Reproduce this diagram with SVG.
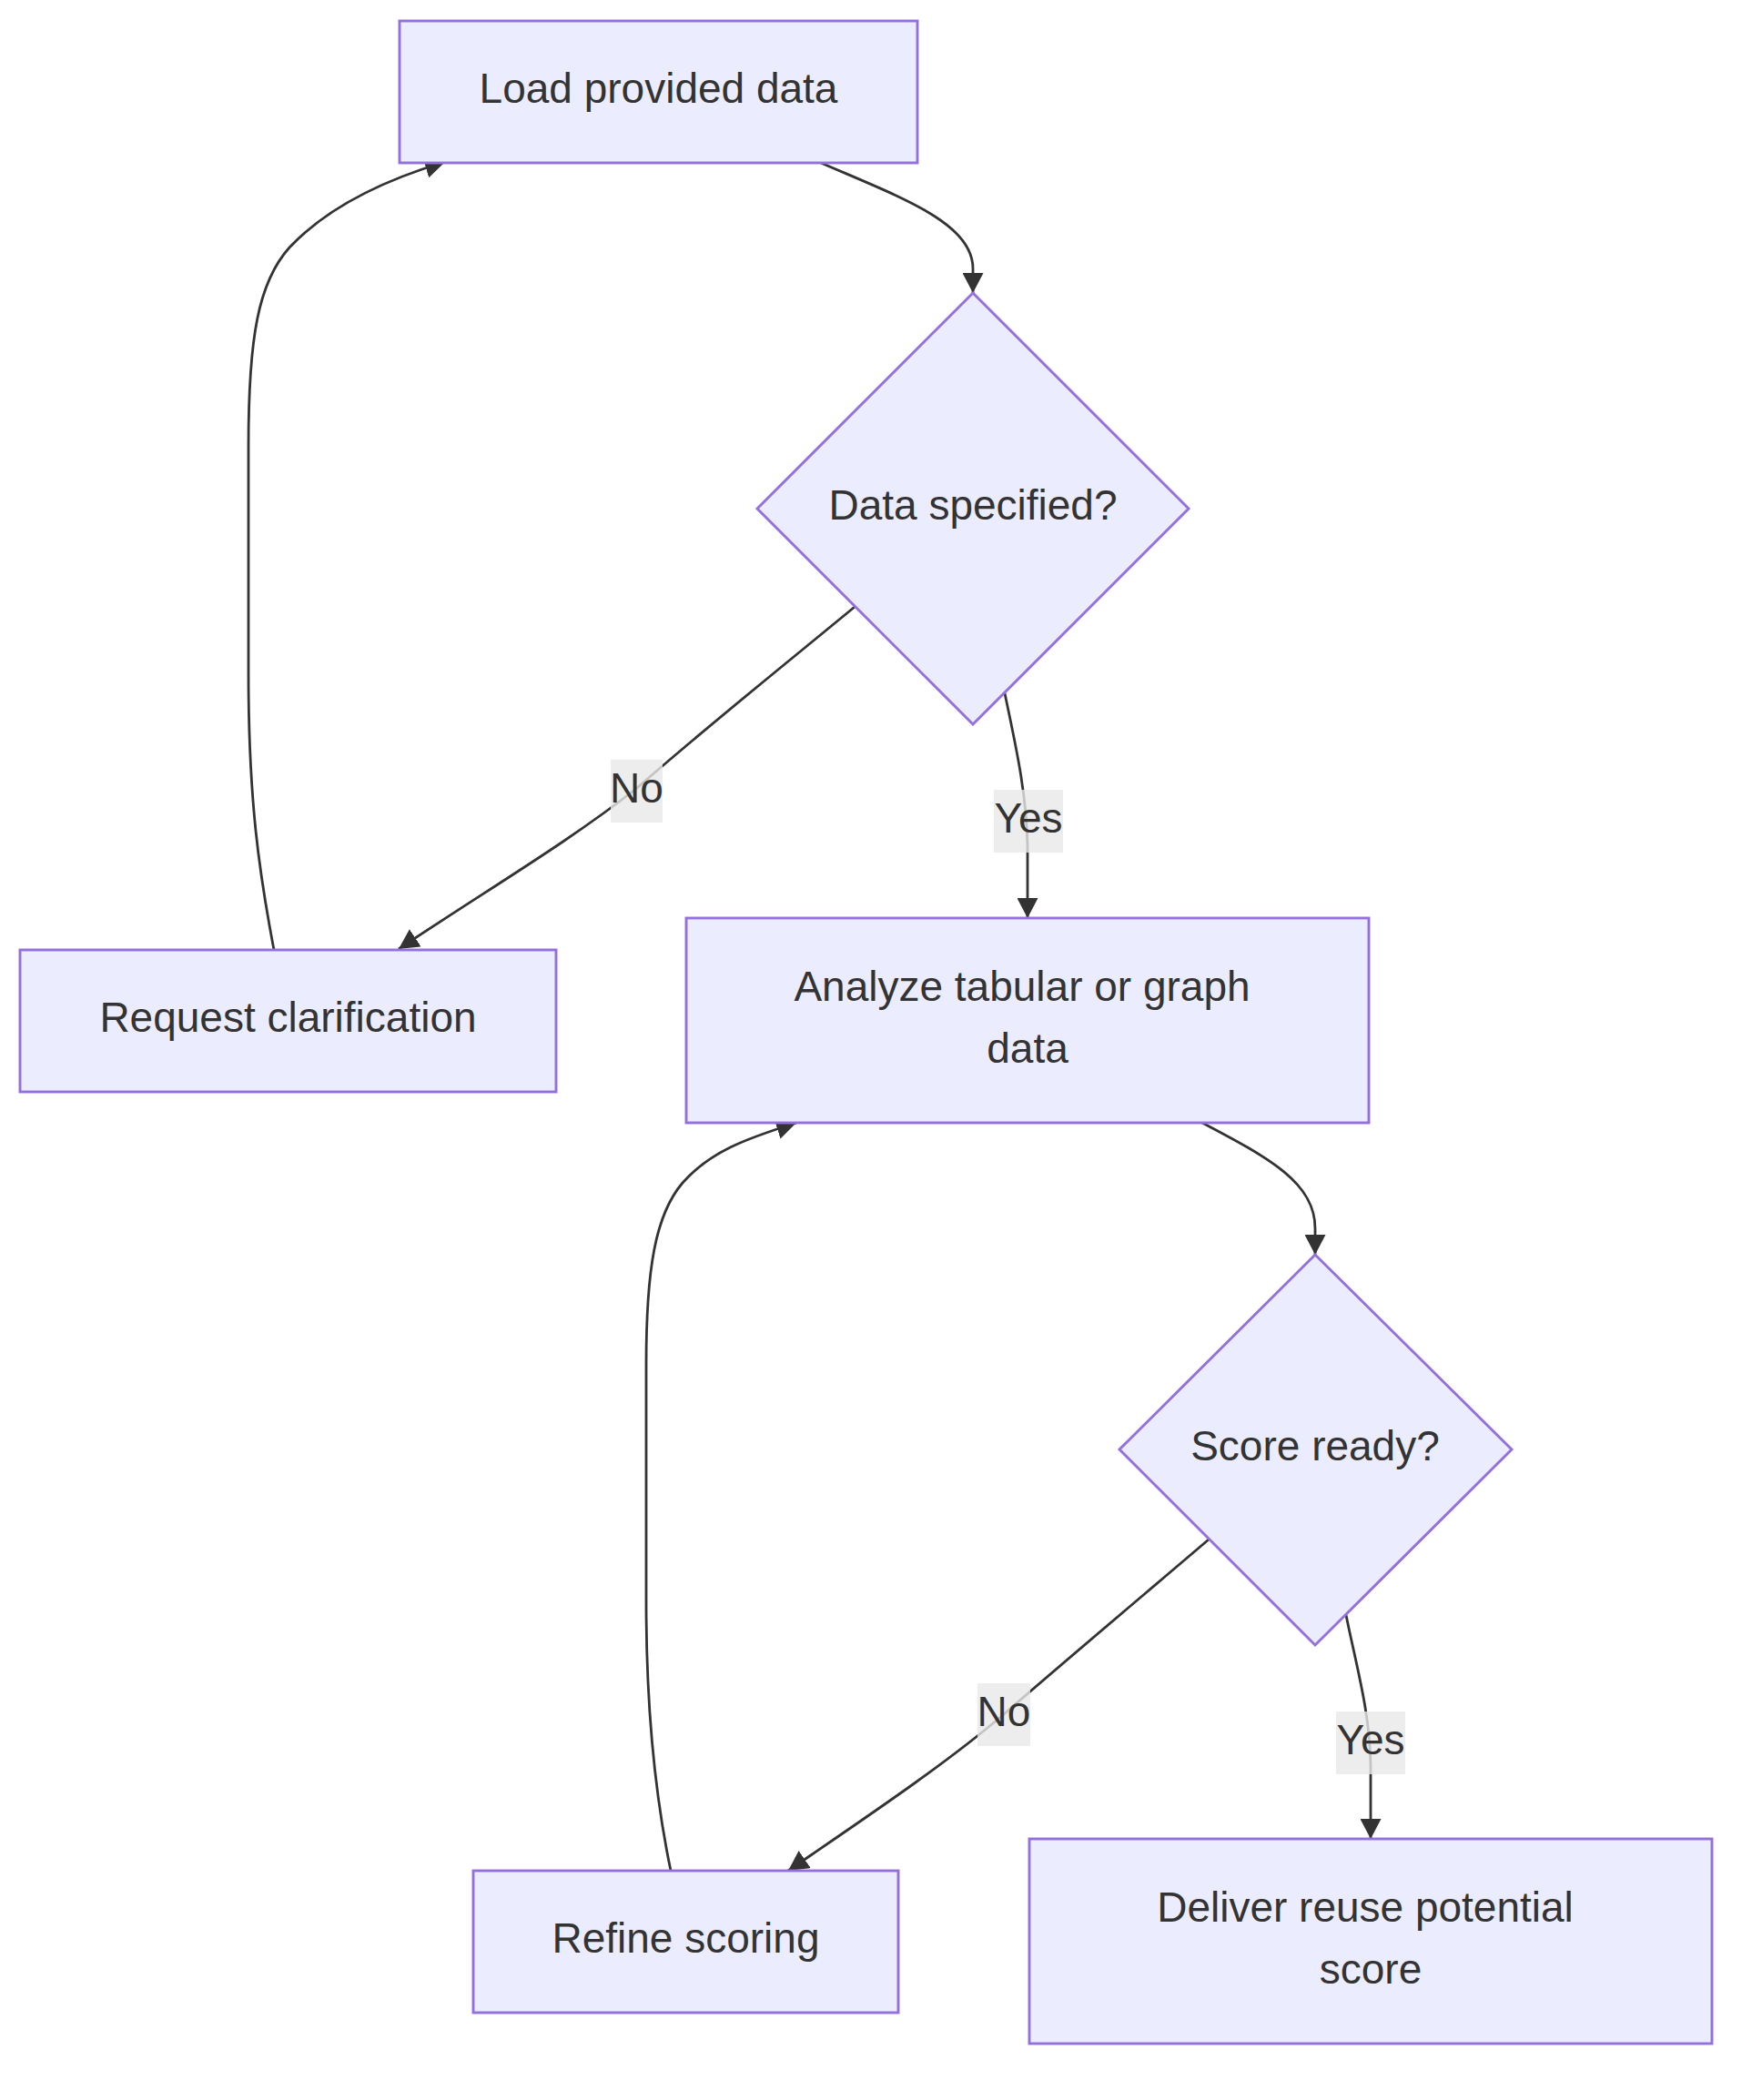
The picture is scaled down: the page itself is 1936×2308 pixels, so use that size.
<svg xmlns="http://www.w3.org/2000/svg" width="1936" height="2308" viewBox="0 0 1936 2308">
<style>
.node rect,.node polygon{fill:#ECECFF;stroke:#9370DB;stroke-width:2.9}
.node text,.label text{font-family:"Liberation Sans",Arial,sans-serif;font-size:46px;fill:#333333;text-anchor:middle}
.edge{fill:none;stroke:#333333;stroke-width:2.8;marker-end:url(#arrow)}
.label rect{fill:#e8e8e8;fill-opacity:0.8}
</style>
<defs>
<marker id="arrow" viewBox="0 0 10 10" refX="10" refY="5" markerUnits="userSpaceOnUse" markerWidth="22" markerHeight="23" preserveAspectRatio="none" orient="auto">
<path d="M0,0 L10,5 L0,10 z" fill="#333333"/>
</marker>
</defs>
<rect x="0" y="0" width="1936" height="2308" fill="#ffffff"/>
<g id="connectors">
<path class="edge" d="M 902 179 C 990 217 1069 245 1069 295 L 1069 322"/>
<path class="edge" d="M 939 667 C 870 724 775 800 700 866 C 625 925 540 975 438 1043"/>
<path class="edge" d="M 1104 762 C 1115 815 1128 870 1129 930 L 1129 1009"/>
<path class="edge" d="M 301 1044 C 285 960 273 880 273 740 L 273 490 C 273 370 284 310 318 272 C 352 236 405 203 489 178"/>
<path class="edge" d="M 1321 1234 C 1395 1273 1445 1300 1445 1350 L 1445 1379"/>
<path class="edge" d="M 1328 1692 C 1260 1750 1165 1830 1103 1884 C 1040 1938 955 1995 866 2056"/>
<path class="edge" d="M 1479 1775 C 1490 1830 1505 1880 1506 1940 L 1506 2021"/>
<path class="edge" d="M 737 2056 C 720 1975 710 1880 710 1760 L 710 1500 C 710 1395 720 1335 750 1300 C 780 1266 818 1252 875 1234"/>
</g>
<g id="edge-labels">
<g class="label" id="label-no-1"><rect x="671" y="835" width="57" height="69"/><text x="699.5" y="882">No</text></g>
<g class="label" id="label-yes-1"><rect x="1092" y="868" width="76" height="69"/><text x="1130" y="915">Yes</text></g>
<g class="label" id="label-no-2"><rect x="1074" y="1850" width="58" height="69"/><text x="1103" y="1897">No</text></g>
<g class="label" id="label-yes-2"><rect x="1468" y="1881" width="76" height="69"/><text x="1506" y="1928">Yes</text></g>
</g>
<g class="node" id="load-data"><rect x="439" y="23" width="569" height="156"/><text x="723.5" y="113">Load provided data</text></g>
<g class="node" id="data-specified"><polygon points="1069,322 1306,559 1069,796 832,559"/><text x="1069" y="571">Data specified?</text></g>
<g class="node" id="request-clarification"><rect x="22" y="1044" width="589" height="156"/><text x="316.5" y="1134">Request clarification</text></g>
<g class="node" id="analyze-data"><rect x="754" y="1009" width="750" height="225"/><text x="1123" y="1099.5">Analyze tabular or graph</text><text x="1129" y="1167.5">data</text></g>
<g class="node" id="score-ready"><polygon points="1445,1379 1661,1593 1445,1808 1230,1593"/><text x="1445" y="1605">Score ready?</text></g>
<g class="node" id="refine-scoring"><rect x="520" y="2056" width="467" height="156"/><text x="753.5" y="2146">Refine scoring</text></g>
<g class="node" id="deliver-score"><rect x="1131" y="2021" width="750" height="225"/><text x="1500" y="2111.5">Deliver reuse potential</text><text x="1506" y="2179.5">score</text></g>
</svg>
